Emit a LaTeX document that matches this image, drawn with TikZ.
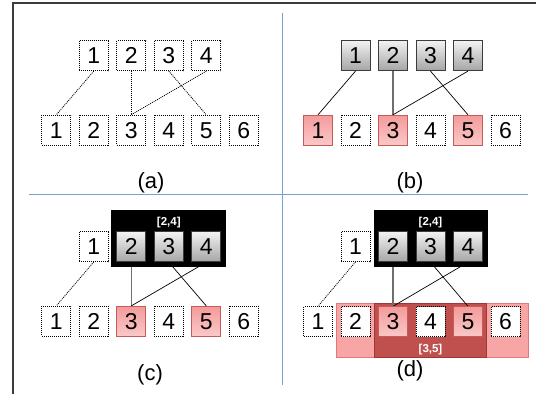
\documentclass[tikz,border=0pt]{standalone}
\usepackage{fontspec}
\setmainfont{Liberation Sans}
\pgfdeclarelayer{bars}
\pgfdeclarelayer{lines}
\pgfdeclarelayer{blk}
\pgfsetlayers{bars,lines,blk,main}
\definecolor{framegrey}{RGB}{60,60,60}
\definecolor{sepblue}{RGB}{120,160,215}
\definecolor{greytop}{RGB}{242,242,242}
\definecolor{greybot}{RGB}{165,165,165}
\definecolor{greyedge}{RGB}{60,60,60}
\definecolor{redtop}{RGB}{243,155,155}
\definecolor{redbot}{RGB}{251,200,200}
\definecolor{rededge}{RGB}{200,90,90}
\definecolor{barlight}{RGB}{247,165,165}
\definecolor{barlightedge}{RGB}{228,120,120}
\definecolor{bardark}{RGB}{192,80,77}
\definecolor{bardarkedge}{RGB}{160,55,55}
\definecolor{linkgrey}{RGB}{110,110,110}
\tikzset{
  cellbase/.style={minimum width=29pt, minimum height=30pt, inner sep=0pt,
    font=\fontsize{23}{23}\selectfont},
  dotbox/.style={cellbase, draw=black, line width=0.8pt, dash pattern=on 1pt off 1pt, fill=white},
  greybox/.style={cellbase, draw=greyedge, line width=0.8pt, top color=greytop, bottom color=greybot},
  redbox/.style={cellbase, draw=rededge, line width=0.8pt, top color=redtop, bottom color=redbot},
  dotlink/.style={draw=black, line width=0.8pt, dash pattern=on 1pt off 1pt},
  thinlink/.style={draw=black, line width=0.7pt},
  thicklink/.style={draw=linkgrey, line width=1.4pt},
  caption/.style={font=\fontsize{22}{22}\selectfont, inner sep=0pt},
  rangelabel/.style={font=\fontsize{11.5}{11.5}\selectfont\bfseries, text=white, inner sep=0pt},
  blackbox/.style={fill=black, draw=black},
}
\begin{document}
\begin{tikzpicture}[x=1pt,y=-1pt]
\useasboundingbox (0,0) rectangle (536,394);
% frame
\draw[framegrey, line width=1.6pt] (13,394) -- (13,3) -- (536,3);
% separators
\draw[sepblue, line width=1.5pt] (29,194.3) -- (528,194.3);
\draw[sepblue, line width=1.5pt] (282.7,13) -- (282.7,385);

% ---------- panel (a) ----------
\node[dotbox] (a-t1) at (93.8,55.7) {1};
\node[dotbox] (a-t2) at (131.3,55.7) {2};
\node[dotbox] (a-t3) at (168.8,55.7) {3};
\node[dotbox] (a-t4) at (206.3,55.7) {4};
\node[dotbox] (a-b1) at (56.3,130.2) {1};
\node[dotbox] (a-b2) at (93.8,130.2) {2};
\node[dotbox] (a-b3) at (131.3,130.2) {3};
\node[dotbox] (a-b4) at (168.8,130.2) {4};
\node[dotbox] (a-b5) at (206.3,130.2) {5};
\node[dotbox] (a-b6) at (243.8,130.2) {6};
\node[caption] (a-cap) at (151,183.3) {(a)};
\begin{pgfonlayer}{lines}
\draw[dotlink] (a-t1.south) -- (a-b1.north);
\draw[dotlink] (a-t2.south) -- (a-b3.north);
\draw[dotlink] (a-t3.south) -- (a-b5.north);
\draw[dotlink] (a-t4.south) -- (a-b3.north);
\end{pgfonlayer}

% ---------- panel (b) ----------
\node[greybox] (b-t1) at (355.5,55.7) {1};
\node[greybox] (b-t2) at (393,55.7) {2};
\node[greybox] (b-t3) at (430.5,55.7) {3};
\node[greybox] (b-t4) at (468,55.7) {4};
\node[redbox] (b-b1) at (318,130.2) {1};
\node[dotbox] (b-b2) at (355.5,130.2) {2};
\node[redbox] (b-b3) at (393,130.2) {3};
\node[dotbox] (b-b4) at (430.5,130.2) {4};
\node[redbox] (b-b5) at (468,130.2) {5};
\node[dotbox] (b-b6) at (505.5,130.2) {6};
\node[caption] (b-cap) at (410,183.3) {(b)};
\begin{pgfonlayer}{lines}
\draw[thinlink] (b-t1.south) -- (b-b1.north);
\draw[thicklink] (b-t2.south) -- (b-b3.north);
\draw[thinlink] (b-t3.south) -- (b-b5.north);
\draw[thinlink] (b-t4.south) -- (b-b3.north);
\end{pgfonlayer}

% ---------- panel (c) ----------
\begin{pgfonlayer}{blk}
\path[blackbox] (111.3,210.3) rectangle (225.5,266.3);
\end{pgfonlayer}
\node[rangelabel] (c-range) at (168.8,222.5) {[2,4]};
\node[dotbox] (c-t1) at (93.8,246.5) {1};
\node[greybox] (c-t2) at (131.3,246.8) {2};
\node[greybox] (c-t3) at (168.8,246.8) {3};
\node[greybox] (c-t4) at (206.3,246.8) {4};
\node[dotbox] (c-b1) at (56.3,321.3) {1};
\node[dotbox] (c-b2) at (93.8,321.3) {2};
\node[redbox] (c-b3) at (131.3,321.3) {3};
\node[dotbox] (c-b4) at (168.8,321.3) {4};
\node[redbox] (c-b5) at (206.3,321.3) {5};
\node[dotbox] (c-b6) at (243.8,321.3) {6};
\node[caption] (c-cap) at (150,374.5) {(c)};
\begin{pgfonlayer}{lines}
\draw[dotlink] (c-t1.south) -- (c-b1.north);
\draw[thicklink] (c-t2.south) -- (c-b3.north);
\draw[thinlink] (c-t3.south) -- (c-b5.north);
\draw[thinlink] (c-t4.south) -- (c-b3.north);
\end{pgfonlayer}

% ---------- panel (d) ----------
\begin{pgfonlayer}{bars}
\path[fill=barlight, draw=barlightedge, line width=0.8pt] (336.3,303) rectangle (528,357.7);
\path[fill=bardark, draw=bardarkedge, line width=0.8pt] (374,303) rectangle (486.7,357.7);
\end{pgfonlayer}
\begin{pgfonlayer}{blk}
\path[blackbox] (374,210.3) rectangle (486.7,266.3);
\end{pgfonlayer}
\node[rangelabel] (d-range) at (430.5,222.5) {[2,4]};
\node[rangelabel] (d-range2) at (430.5,349.7) {[3,5]};
\node[dotbox] (d-t1) at (355.5,246.5) {1};
\node[greybox] (d-t2) at (393,246.8) {2};
\node[greybox] (d-t3) at (430.5,246.8) {3};
\node[greybox] (d-t4) at (468,246.8) {4};
\node[dotbox] (d-b1) at (318,321.7) {1};
\node[dotbox] (d-b2) at (355.5,321.7) {2};
\node[redbox] (d-b3) at (393,321.7) {3};
\node[dotbox] (d-b4) at (430.5,321.7) {4};
\node[redbox] (d-b5) at (468,321.7) {5};
\node[dotbox] (d-b6) at (505.5,321.7) {6};
\node[caption] (d-cap) at (410,371) {(d)};
\begin{pgfonlayer}{lines}
\draw[dotlink] (d-t1.south) -- (d-b1.north);
\draw[thicklink] (d-t2.south) -- (d-b3.north);
\draw[thinlink] (d-t3.south) -- (d-b5.north);
\draw[thinlink] (d-t4.south) -- (d-b3.north);
\end{pgfonlayer}
\end{tikzpicture}
\end{document}
